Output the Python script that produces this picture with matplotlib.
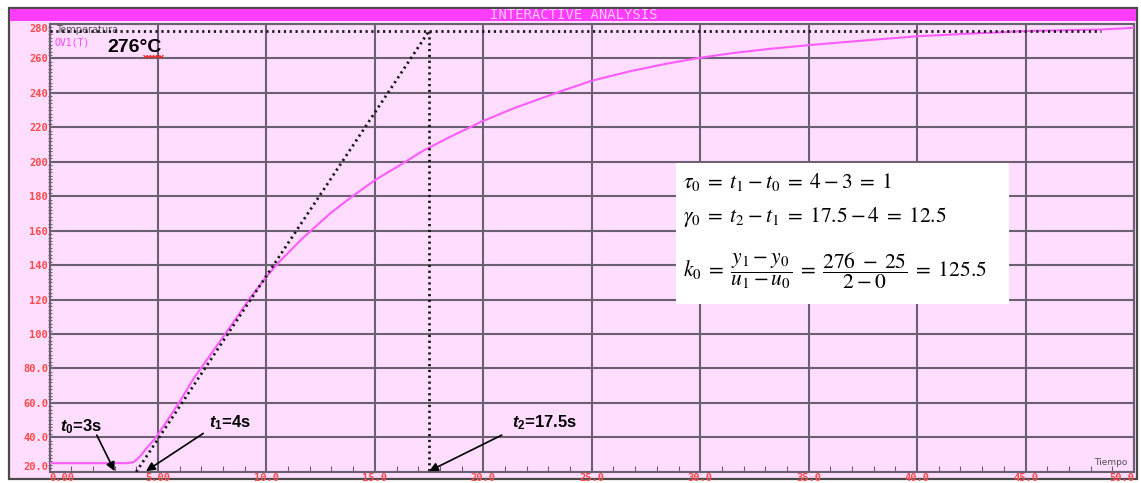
import numpy as np
import matplotlib
matplotlib.use('Agg')
from matplotlib import pyplot as plt
from matplotlib.patches import Rectangle
from matplotlib.lines import Line2D
from matplotlib.ticker import MultipleLocator

plt.rcParams['mathtext.fontset'] = 'custom'
plt.rcParams['mathtext.it'] = 'Liberation Sans:italic:bold'
plt.rcParams['mathtext.rm'] = 'Liberation Sans:bold'

# recorded step response (tiempo [s], temperatura [C])
t_resp = [0.0, 3.6, 3.9, 4.17, 4.48, 4.87, 5.41, 6.02, 6.63, 8.17, 9.25, 10.02,
          10.63, 11.71, 12.94, 13.86, 15.01, 16.15, 17.24, 18.47, 19.47, 19.86,
          21.39, 23.7, 25.01, 26.78, 28.47, 30.0, 31.54, 33.23, 35.08, 37.23,
          40.03, 42.61, 45.23, 48.45, 50.0]
temp_resp = [25, 25, 25.8, 28.9, 33.8, 39.3, 49.4, 61.2, 73.9, 101.3, 120.9, 133.6,
             142.4, 156.1, 170.0, 179.0, 189.4, 198.0, 206.5, 214.5, 220.5, 223.0,
             231.0, 241.5, 247.1, 252.6, 257.0, 260.4, 263.2, 265.6, 267.8, 270.1,
             272.9, 274.5, 276.0, 276.8, 277.8]

# identification points
t0, t1, t2 = 3, 4, 17.5
y_final = 276
y_floor = 20
t_final_line = 48.5

x_ticks = [0, 5, 10, 15, 20, 25, 30, 35, 40, 45, 50]
x_tick_labels = ['0.00', '5.00', '10.0', '15.0', '20.0', '25.0', '30.0', '35.0', '40.0', '45.0', '50.0']
y_ticks = [20, 40, 60, 80, 100, 120, 140, 160, 180, 200, 220, 240, 260, 280]
y_tick_labels = ['20.0', '40.0', '60.0', '80.0', '100', '120', '140', '160', '180', '200',
                 '220', '240', '260', '280']

pink = '#ffddff'
magenta = '#ff3cff'
curve_col = '#ff5cff'
grid_col = '#6a6070'
tick_red = '#ff4a4a'

W, H = 1141, 483


def fx(x):
    return x / W


def fy(y):
    return 1 - y / H


fig = plt.figure(figsize=(W / 100, H / 100), dpi=100)
fig.patch.set_facecolor('white')

# window frame and title bar
fig.patches.append(Rectangle((fx(9), fy(479)), (1137 - 9) / W, (479 - 8) / H,
                             transform=fig.transFigure, facecolor=pink,
                             edgecolor='#4a4a4a', lw=1.6, zorder=-2))
fig.patches.append(Rectangle((fx(10), fy(20.7)), (1136 - 10) / W, 11.4 / H,
                             transform=fig.transFigure, facecolor=magenta,
                             edgecolor='none', zorder=-1))
fig.text(fx(574), fy(15.3), 'INTERACTIVE ANALYSIS', ha='center', va='center',
         color='#ffc8ff', fontsize=10, family='DejaVu Sans Mono')

ax = fig.add_axes([fx(49.5), fy(471.8), (1134 - 49.5) / W, (471.8 - 24) / H])
ax.set_facecolor(pink)
ax.set_xlim(0, 50)
ax.set_ylim(20, 279.5)

ax.set_xticks(x_ticks)
ax.set_xticklabels(x_tick_labels)
ax.set_yticks(y_ticks)
ax.set_yticklabels(y_tick_labels)
ax.xaxis.set_minor_locator(MultipleLocator(1))
ax.yaxis.set_minor_locator(MultipleLocator(2))
ax.tick_params(which='major', length=0, pad=1, labelsize=7.5, labelcolor=tick_red)
ax.tick_params(axis='x', which='minor', direction='in', length=4, width=0.8, color=grid_col)
ax.tick_params(axis='y', which='minor', direction='inout', length=3, width=0.8, color=grid_col)
for lab in ax.get_xticklabels() + ax.get_yticklabels():
    lab.set_family('DejaVu Sans Mono')
    lab.set_fontweight('bold')
xl = ax.get_xticklabels()
xl[0].set_ha('left')
xl[-1].set_ha('right')
yl = ax.get_yticklabels()
yl[0].set_va('bottom')
yl[-1].set_va('top')

ax.grid(True, which='major', color=grid_col, lw=1.5)
ax.set_axisbelow(True)
for s in ax.spines.values():
    s.set_color(grid_col)
    s.set_linewidth(1.5)

# response curve
ax.plot(t_resp, temp_resp, color=curve_col, lw=1.5, zorder=3)

# tangent construction
dot = dict(color='#1a1a1a', lw=2.0, linestyle=(0, (0.8, 1.3)), zorder=4)
ax.plot([0, t_final_line], [y_final, y_final], **dot)
ax.plot([t1, t2], [y_floor, y_final], **dot)
ax.plot([t2, t2], [y_final, y_floor], **dot)

# labels inside the plot
ax.text(0.3, 279.2, 'Temperatura', fontsize=7, color='#505050', va='top',
        family='DejaVu Sans')
ax.text(0.25, 269, 'OV1(T)', fontsize=7, color='#ff44ff', va='center',
        family='DejaVu Sans Mono')
ax.text(2.65, 266.3, '276°C', fontsize=14, fontweight='bold', color='black',
        va='center', family='Liberation Sans')
# spell-check squiggle under the unit
sq_x = np.linspace(144, 163, 13)
sq_y = np.where(np.arange(13) % 2 == 0, 55.5, 57.8)
fig.lines.append(Line2D(fx(sq_x), fy(sq_y), transform=fig.transFigure,
                        color='#ff2020', lw=0.9))
ax.text(49.7, 25.5, 'Tiempo', fontsize=6.5, color='#505050', ha='right',
        va='center', family='DejaVu Sans')

arrow = dict(arrowstyle='-|>', color='black', lw=1.2, mutation_scale=13,
             shrinkA=0, shrinkB=0)
lab = dict(fontsize=12, fontweight='bold', color='black', ha='center',
           va='center', family='Liberation Sans', math_fontfamily='custom')

ax.text(1.45, 46.3, r'$t_0$=3s', **lab)
ax.annotate('', xy=(t0, 20.4), xytext=(2.18, 41.3), arrowprops=arrow)
ax.text(8.3, 48.3, r'$t_1$=4s', **lab)
ax.annotate('', xy=(4.45, 20.4), xytext=(7.09, 42.3), arrowprops=arrow)
ax.text(22.8, 48.5, r'$t_2$=17.5s', **lab)
ax.annotate('', xy=(t2, 20.4), xytext=(20.85, 41.3), arrowprops=arrow)

# parameter box
fig.patches.append(Rectangle((fx(676), fy(304)), (1009 - 676) / W, (304 - 162.7) / H,
                             transform=fig.transFigure, facecolor='white',
                             edgecolor='none', zorder=5))
eq = dict(fontsize=15.5, color='black', va='center', ha='left', math_fontfamily='stix',
          zorder=6)
fig.text(fx(683), fy(182), r'$\tau_0\;=\;t_1 - t_0\;=\;4 - 3\;=\;1$', **eq)
fig.text(fx(683), fy(217), r'$\gamma_0\;=\;t_2 - t_1\;=\;17.5 - 4\;=\;12.5$', **eq)
fig.text(fx(683), fy(271),
         r'$k_0\;=\;\dfrac{y_1 - y_0}{u_1 - u_0}\;=\;\dfrac{276\;-\;25}{2 - 0}\;=\;125.5$', **eq)

fig.savefig('out.png', dpi=100)
